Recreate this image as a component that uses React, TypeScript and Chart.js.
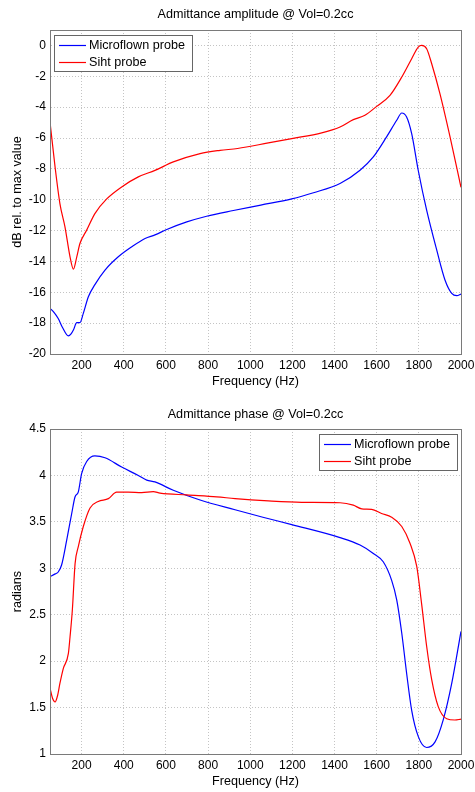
import React, { useEffect, useRef } from 'react';
import { Chart, registerables } from 'chart.js';

Chart.register(...registerables);

const FONT = '"Liberation Sans", Arial, Helvetica, sans-serif';

const xTicks = [200, 400, 600, 800, 1000, 1200, 1400, 1600, 1800, 2000];
const ampYTicks = [-20, -18, -16, -14, -12, -10, -8, -6, -4, -2, 0];
const phaseYTicks = [1, 1.5, 2, 2.5, 3, 3.5, 4, 4.5];

const seriesNames = ['Microflown probe', 'Siht probe'];
const seriesColors = ['#0000ff', '#ff0000'];

// Admittance amplitude (dB rel. to max value)
const ampMicroflownFreq = [50, 66, 89, 110, 137, 150, 161, 177, 192, 208, 232, 263, 311, 374, 438, 501, 548, 604, 699, 793, 920, 1050, 1197, 1300, 1426, 1521, 1584, 1647, 1695, 1719, 1742, 1766, 1797, 1837, 1885, 1924, 1956, 1980, 2000];
const ampMicroflown = [-17.04, -17.25, -17.7, -18.3, -18.83, -18.7, -18.45, -17.97, -17.97, -17.37, -16.29, -15.5, -14.56, -13.7, -13.05, -12.51, -12.28, -11.93, -11.44, -11.07, -10.7, -10.35, -9.95, -9.55, -8.95, -8.09, -7.23, -5.93, -4.85, -4.38, -4.64, -5.72, -8.09, -10.68, -13.27, -15.2, -16.07, -16.22, -16.12];
const ampSihtFreq = [50, 74, 97, 121, 145, 161, 177, 192, 224, 263, 319, 390, 469, 548, 635, 762, 857, 940, 1086, 1197, 1339, 1426, 1489, 1544, 1600, 1663, 1719, 1766, 1797, 1813, 1837, 1861, 1900, 1948, 2000];
const ampSiht = [-4.96, -7.87, -10.25, -11.76, -13.7, -14.5, -13.7, -12.84, -11.97, -10.9, -9.95, -9.17, -8.52, -8.1, -7.55, -7.01, -6.8, -6.68, -6.32, -6.04, -5.67, -5.29, -4.81, -4.53, -3.95, -3.24, -2.05, -0.86, -0.11, 0, -0.21, -1.19, -3.13, -5.93, -9.2];

// Admittance phase (radians)
const phaseMicroflownFreq = [50, 75, 89, 105, 129, 153, 169, 184, 200, 224, 263, 311, 390, 469, 509, 548, 635, 762, 928, 1060, 1197, 1426, 1521, 1584, 1631, 1671, 1695, 1719, 1742, 1766, 1797, 1837, 1877, 1916, 1956, 2000];
const phaseMicroflown = [2.91, 2.94, 2.96, 3.035, 3.3, 3.59, 3.77, 3.82, 4.02, 4.15, 4.21, 4.19, 4.09, 4.0, 3.95, 3.93, 3.84, 3.735, 3.63, 3.55, 3.47, 3.33, 3.25, 3.16, 3.07, 2.87, 2.66, 2.3, 1.87, 1.47, 1.19, 1.07, 1.13, 1.37, 1.76, 2.32];
const phaseSihtFreq = [50, 62, 74, 86, 97, 113, 137, 145, 156, 169, 184, 208, 240, 279, 327, 366, 421, 485, 540, 572, 699, 841, 928, 1086, 1244, 1426, 1489, 1529, 1576, 1623, 1671, 1719, 1758, 1790, 1813, 1837, 1861, 1892, 1932, 1971, 2000];
const phaseSiht = [1.71, 1.6, 1.56, 1.63, 1.76, 1.92, 2.08, 2.26, 2.55, 3.05, 3.23, 3.45, 3.65, 3.72, 3.75, 3.82, 3.82, 3.815, 3.825, 3.81, 3.79, 3.77, 3.75, 3.725, 3.71, 3.706, 3.68, 3.64, 3.635, 3.59, 3.55, 3.45, 3.27, 3.02, 2.62, 2.16, 1.8, 1.51, 1.38, 1.366, 1.375];

function pts(xs: number[], ys: number[]) {
  return xs.map((x, i) => ({ x, y: ys[i] }));
}

interface PanelCfg {
  title: string;
  yTitle: string;
  yMin: number;
  yMax: number;
  yTicks: number[];
  padTop: number;
  xHeight: number;
  titleY: number;
  legend: 'left' | 'right';
  series: { x: number[]; y: number[] }[];
}

function makeChart(canvas: HTMLCanvasElement, cfg: PanelCfg) {
  const overlay = {
    id: 'overlay',
    afterDraw(chart: any) {
      const { ctx, chartArea: a } = chart;
      ctx.save();
      ctx.setLineDash([]);
      ctx.strokeStyle = '#7a7a7a';
      ctx.lineWidth = 1;
      ctx.strokeRect(Math.round(a.left) + 0.5, Math.round(a.top) + 0.5, Math.round(a.right - a.left), Math.round(a.bottom - a.top));
      ctx.fillStyle = '#000';
      ctx.font = `12.6px ${FONT}`;
      ctx.textAlign = 'center';
      ctx.textBaseline = 'middle';
      const cx = (a.left + a.right) / 2;
      ctx.fillText(cfg.title, cx, cfg.titleY);
      ctx.fillText('Frequency (Hz)', cx, a.bottom + 28);
      ctx.save();
      ctx.translate(18, (a.top + a.bottom) / 2);
      ctx.rotate(-Math.PI / 2);
      ctx.fillText(cfg.yTitle, 0, 0);
      ctx.restore();
      // legend
      const w = 138;
      const h = 36;
      const lx = cfg.legend === 'left' ? Math.round(a.left) + 4 : Math.round(a.right) - 4 - w;
      const ly = Math.round(a.top) + 5;
      ctx.fillStyle = '#fff';
      ctx.fillRect(lx, ly, w, h);
      ctx.strokeStyle = '#666';
      ctx.strokeRect(lx + 0.5, ly + 0.5, w, h);
      seriesNames.forEach((n, i) => {
        const y = ly + 10 + i * 17;
        ctx.strokeStyle = seriesColors[i];
        ctx.lineWidth = 1.2;
        ctx.beginPath();
        ctx.moveTo(lx + 5, y + 0.5);
        ctx.lineTo(lx + 32, y + 0.5);
        ctx.stroke();
        ctx.fillStyle = '#000';
        ctx.textAlign = 'left';
        ctx.textBaseline = 'middle';
        ctx.fillText(n, lx + 35, y + 1);
      });
      ctx.restore();
    },
  };

  return new Chart(canvas, {
    type: 'line',
    data: {
      datasets: cfg.series.map((s, i) => ({
        label: seriesNames[i],
        data: pts(s.x, s.y),
        borderColor: seriesColors[i],
        backgroundColor: seriesColors[i],
        borderWidth: 1.2,
        pointRadius: 0,
        cubicInterpolationMode: 'monotone' as const,
        fill: false,
        order: seriesNames.length - i,
      })),
    },
    options: {
      animation: false,
      responsive: false,
      devicePixelRatio: 1,
      layout: { padding: { top: cfg.padTop, right: 14, left: 0, bottom: 0 } },
      plugins: { legend: { display: false }, title: { display: false }, tooltip: { enabled: false } },
      scales: {
        x: {
          type: 'linear',
          min: 50,
          max: 2000,
          afterBuildTicks: (s: any) => {
            s.ticks = xTicks.map((v) => ({ value: v }));
          },
          afterFit: (s: any) => {
            s.height = cfg.xHeight;
            s.paddingLeft = 0;
            s.paddingRight = 0;
          },
          grid: { color: '#c4c4c4', drawTicks: false, lineWidth: 1 },
          border: { display: true, color: '#7a7a7a', dash: [1, 2] },
          ticks: {
            autoSkip: false,
            maxRotation: 0,
            padding: 4,
            color: '#000',
            font: { family: FONT, size: 12 },
            callback: (v: any) => String(v),
          },
        },
        y: {
          type: 'linear',
          min: cfg.yMin,
          max: cfg.yMax,
          afterBuildTicks: (s: any) => {
            s.ticks = cfg.yTicks.map((v) => ({ value: v }));
          },
          afterFit: (s: any) => {
            s.width = 50;
            s.paddingTop = 0;
            s.paddingBottom = 0;
          },
          grid: { color: '#c4c4c4', drawTicks: false, lineWidth: 1 },
          border: { display: true, color: '#7a7a7a', dash: [1, 2] },
          ticks: {
            autoSkip: false,
            padding: 4,
            color: '#000',
            font: { family: FONT, size: 12 },
            callback: (v: any) => String(v),
          },
        },
      },
    },
    plugins: [overlay],
  } as any);
}

export default function App() {
  const topRef = useRef<HTMLCanvasElement>(null);
  const botRef = useRef<HTMLCanvasElement>(null);

  useEffect(() => {
    const c1 = makeChart(topRef.current!, {
      title: 'Admittance amplitude @ Vol=0.2cc',
      yTitle: 'dB rel. to max value',
      yMin: -20,
      yMax: 1,
      yTicks: ampYTicks,
      padTop: 30,
      xHeight: 42,
      titleY: 15,
      legend: 'left',
      series: [
        { x: ampMicroflownFreq, y: ampMicroflown },
        { x: ampSihtFreq, y: ampSiht },
      ],
    });
    const c2 = makeChart(botRef.current!, {
      title: 'Admittance phase @ Vol=0.2cc',
      yTitle: 'radians',
      yMin: 1,
      yMax: 4.5,
      yTicks: phaseYTicks,
      padTop: 33,
      xHeight: 38,
      titleY: 19,
      legend: 'right',
      series: [
        { x: phaseMicroflownFreq, y: phaseMicroflown },
        { x: phaseSihtFreq, y: phaseSiht },
      ],
    });
    return () => {
      c1.destroy();
      c2.destroy();
    };
  }, []);

  return (
    <div style={{ position: 'absolute', left: 0, top: 0, width: 475, height: 792, background: '#fff' }}>
      <canvas ref={topRef} width={475} height={396} style={{ display: 'block', width: 475, height: 396 }} />
      <canvas ref={botRef} width={475} height={396} style={{ display: 'block', width: 475, height: 396 }} />
    </div>
  );
}
